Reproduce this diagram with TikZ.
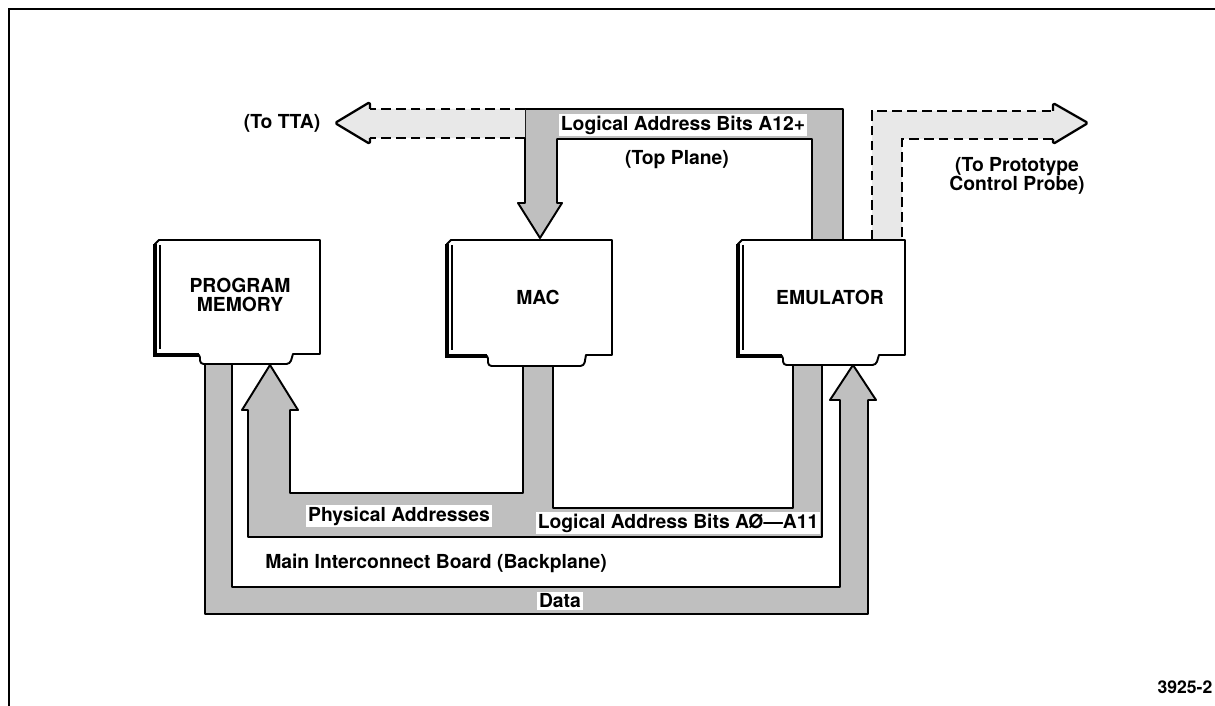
\documentclass[tikz,border=0pt]{standalone}
\usepackage{fontspec}
\setmainfont{TeX Gyre Heros}
\tikzset{
  bus/.style={fill=gray!50, draw=black, line width=1.1pt, line join=round},
  ext/.style={fill=gray!18},
  extedge/.style={draw=black, line width=1.3pt, dash pattern=on 5.5pt off 3pt},
  head/.style={draw=black, line width=1.3pt, line join=round, rounded corners=1pt},
  card/.style={draw=black, line width=1.1pt, fill=white, line join=round},
  lbl/.style={font=\fontsize{11}{10.8}\selectfont\bfseries, inner sep=1pt},
  onbus/.style={lbl, fill=white}
}
\begin{document}
\begin{tikzpicture}[x=0.02cm, y=-0.02cm]
\useasboundingbox (0,0) rectangle (1215,706);
% frame
\draw[line width=1.3pt] (9,706) -- (9,9) -- (1215,9);

% data bus, program memory -> emulator
\filldraw[bus] (205,364) -- (205,614) -- (868,614) -- (868,400) -- (876,400) -- (853,365)
  -- (830,400) -- (840,400) -- (840,587) -- (232,587) -- (232,364);

% physical addresses and logical address bits A0-A11
\filldraw[bus] (270,365) -- (298,410) -- (290,410) -- (290,493) -- (523,493) -- (523,366)
  -- (553,366) -- (553,508) -- (793,508) -- (793,365) -- (822,365) -- (822,537)
  -- (248,537) -- (248,410) -- (242,410) -- cycle;

% top plane, A12+
\filldraw[bus] (843,240) -- (843,109) -- (525,109) -- (525,203) -- (518,203) -- (540,238)
  -- (562,203) -- (557,203) -- (557,139) -- (812,139) -- (812,240);

% to TTA
\fill[ext] (525,109) -- (370,109) -- (370,102) -- (335,123) -- (370,144) -- (370,138) -- (525,138) -- cycle;
\draw[extedge] (525,109) -- (370,109);
\draw[extedge] (525,138) -- (370,138);
\draw[head] (370,109) -- (370,102) -- (335,123) -- (370,144) -- (370,138);

% to prototype control probe
\fill[ext] (872,240) -- (872,111) -- (1053,111) -- (1053,103) -- (1088,123) -- (1053,144)
  -- (1053,139) -- (902,139) -- (902,240) -- cycle;
\draw[extedge] (872,240) -- (872,111) -- (1053,111);
\draw[extedge] (1053,139) -- (902,139) -- (902,240);
\draw[head] (1053,111) -- (1053,103) -- (1088,123) -- (1053,144) -- (1053,139);

% cards
\draw[card] (155,244) -- (159,240) -- (320,240) -- (320,354) -- (293,354) [rounded corners=2pt] -- (290,364)
  -- (200,364) -- (200,354) [sharp corners] -- (155,354) -- cycle;
\draw[line width=1.9pt] (155,244) -- (155,355) -- (199,355);
\draw[line width=0.6pt] (160,245) -- (160,349);

\draw[card] (447,244) -- (451,240) -- (612,240) -- (612,355) -- (586,355) [rounded corners=2pt] -- (584,366)
  -- (488,366) -- (488,355) [sharp corners] -- (447,355) -- cycle;
\draw[line width=1.9pt] (447,244) -- (447,356) -- (487,356);
\draw[line width=0.6pt] (452,245) -- (452,350);

\draw[card] (738,244) -- (742,240) -- (905,240) -- (905,355) -- (879,355) [rounded corners=2pt] -- (876,365)
  -- (783,365) -- (783,355) [sharp corners] -- (738,355) -- cycle;
\draw[line width=1.9pt] (738,244) -- (738,356) -- (782,356);
\draw[line width=0.6pt] (743,245) -- (743,350);

\node[lbl, align=center] (pm) at (240,295) {PROGRAM\\MEMORY};
\node[lbl] (mac) at (538,297) {MAC};
\node[lbl] (emu) at (830,297) {EMULATOR};

% labels
\node[onbus] (hi) at (683,125) {Logical Address Bits A12+};
\node[lbl] (top) at (677,160) {(Top Plane)};
\node[lbl] (tta) at (282,123) {(To TTA)};
\node[lbl, align=center] (probe) at (1017,176) {(To Prototype\\Control Probe)};
\node[onbus] (pa) at (399,516) {Physical Addresses};
\node[onbus] (la) at (678,523) {Logical Address Bits AØ—A11};
\node[lbl] (main) at (436,563) {Main Interconnect Board (Backplane)};
\node[onbus] (data) at (560,601) {Data};
\node[lbl, font=\fontsize{10}{11}\selectfont\bfseries] (fig) at (1185,687) {3925-2};
\end{tikzpicture}
\end{document}
